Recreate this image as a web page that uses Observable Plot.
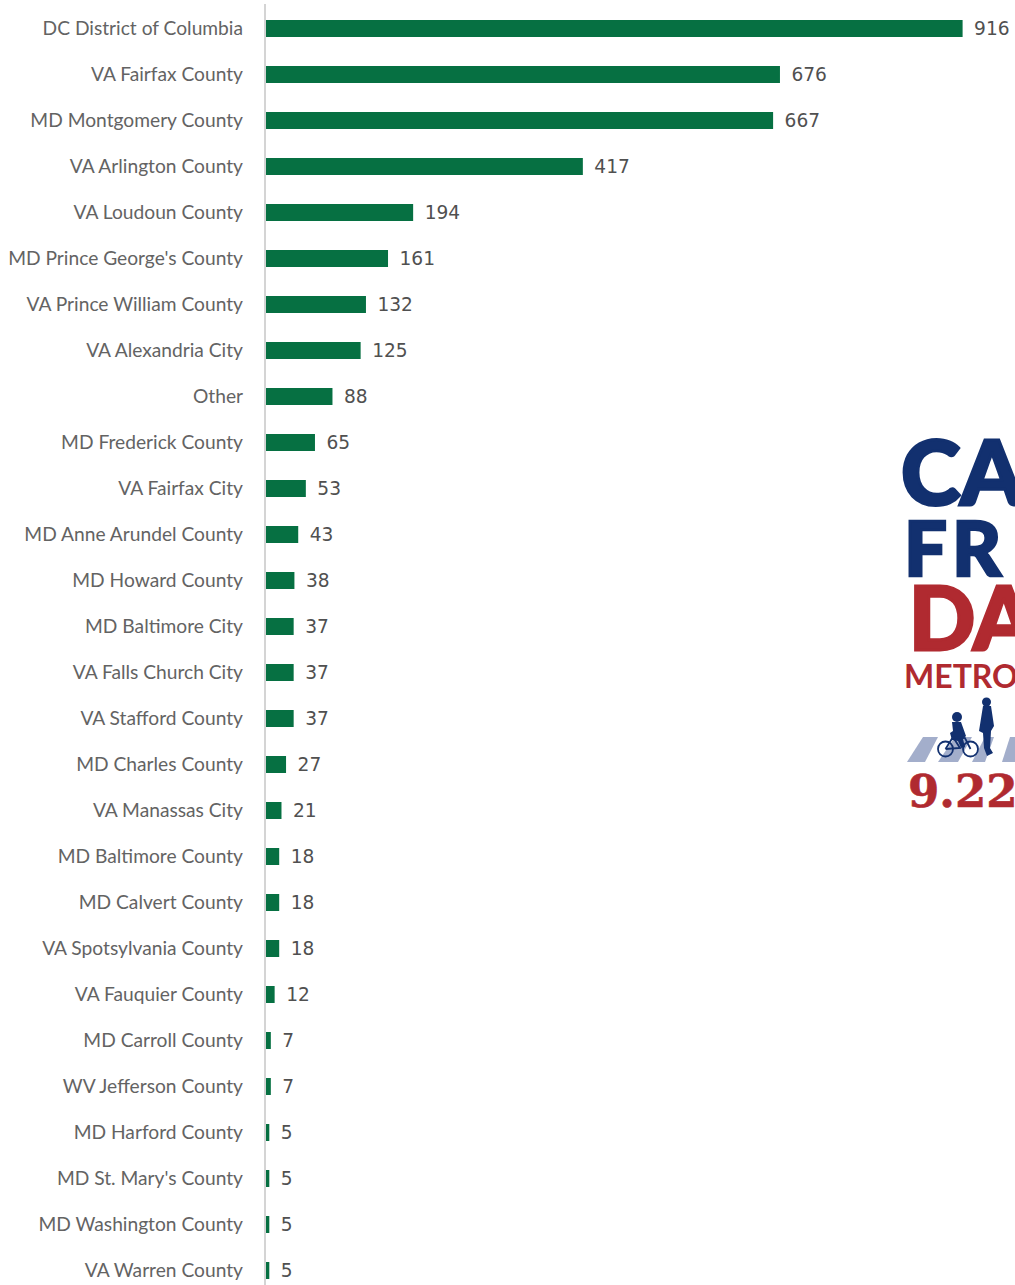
<!DOCTYPE html>
<html><head><meta charset="utf-8">
<script src="https://cdn.jsdelivr.net/npm/d3@7"></script>
<script src="https://cdn.jsdelivr.net/npm/@observablehq/plot@0.6"></script>
<style>
html,body{margin:0;padding:0;background:#fff;overflow:hidden}
#wrap{position:relative;width:1015px;height:1285px;overflow:hidden}
#wrap>svg{position:absolute;left:0;top:0}
</style></head><body><div id="wrap"></div>
<script>
const places = ["DC District of Columbia","VA Fairfax County","MD Montgomery County","VA Arlington County","VA Loudoun County","MD Prince George's County","VA Prince William County","VA Alexandria City","Other","MD Frederick County","VA Fairfax City","MD Anne Arundel County","MD Howard County","MD Baltimore City","VA Falls Church City","VA Stafford County","MD Charles County","VA Manassas City","MD Baltimore County","MD Calvert County","VA Spotsylvania County","VA Fauquier County","MD Carroll County","WV Jefferson County","MD Harford County","MD St. Mary's County","MD Washington County","VA Warren County"];
const counts = [916,676,667,417,194,161,132,125,88,65,53,43,38,37,37,37,27,21,18,18,18,12,7,7,5,5,5,5];
const rows = places.map((place,i)=>({place,count:counts[i]}));
const FONT = "Lato, 'Liberation Sans', sans-serif";
const chart = Plot.plot({
  width:1015, height:1285, marginLeft:265.5, marginRight:0, marginTop:4, marginBottom:0,
  style:{fontFamily:FONT, background:"#fff"},
  x:{domain:[0,984.2], range:[265.5,1014.5], axis:null},
  y:{domain:places, range:[18.5,1280], paddingInner:0.63, paddingOuter:0, align:0.5, axis:null},
  marks:[
    Plot.barX(rows,{x:"count",y:"place",fill:"#067042"}),
    Plot.ruleX([0],{stroke:"#d4d4d4",strokeWidth:2,dx:-1}),
    Plot.text(rows,{x:0,y:"place",text:"place",textAnchor:"end",dx:-23,fill:"#636363",fontSize:19.2}),
    Plot.text(rows,{x:"count",y:"place",text:d=>String(d.count),textAnchor:"start",dx:11,fill:"#505050",fontSize:18.6,fontFamily:"'DejaVu Sans', sans-serif"})
  ]
});
const wrap=document.getElementById("wrap");
wrap.appendChild(chart);
const NAVY="#12306f",RED="#b02a30",STR="#a3aecb";
const logo=document.createElementNS("http://www.w3.org/2000/svg","svg");
logo.setAttribute("width",1015);logo.setAttribute("height",1285);
logo.innerHTML=`<g font-family="Lato,'Liberation Sans',sans-serif" font-weight="900">
<text x="901" y="505" font-size="90" fill="${NAVY}" stroke="${NAVY}" stroke-width="3">CA</text>
<text x="904" y="576" font-size="76" letter-spacing="5" fill="${NAVY}" stroke="${NAVY}" stroke-width="2.5">FR</text>
<text x="909" y="650" font-size="87" fill="${RED}" stroke="${RED}" stroke-width="3">DA</text>
<text x="904" y="688" font-size="32" font-weight="700" fill="${RED}">METRO</text>
<text x="908" y="807" font-size="45" fill="${RED}" stroke="${RED}" stroke-width="0.6" font-weight="700" font-family="'DejaVu Serif',serif">9.22</text></g>
<g fill="${STR}"><path d="M907 762 L923 737 L938 737 L925 762Z"/><path d="M938 762 L955 737 L972 737 L958 762Z"/><path d="M972 762 L985 737 L994 737 L985 762Z"/><path d="M1002 762 L1010 737 L1015 737 L1015 762Z"/></g>
<g fill="${NAVY}"><circle cx="986.5" cy="702" r="4.5"/><path d="M983 706 L991 706 L994 726 L991 731 L990 748 L993 753 L987 756 L984 748 L983 733 L979 731Z"/>
<circle cx="957" cy="717" r="5"/><path d="M952 722 L961 722 L966 736 L963 739 L965 747 L961 748 L958 741 L952 740 L950 733 L953 731Z"/></g>
<g fill="none" stroke="${NAVY}" stroke-width="1.8"><circle cx="945.5" cy="749" r="7.5"/><circle cx="970.5" cy="749" r="7.5"/><path d="M945.5 749 L953 737 L965 738 L970.5 749 M953 737 L960 748 L945.5 749"/></g>`;
wrap.appendChild(logo);
</script></body></html>
